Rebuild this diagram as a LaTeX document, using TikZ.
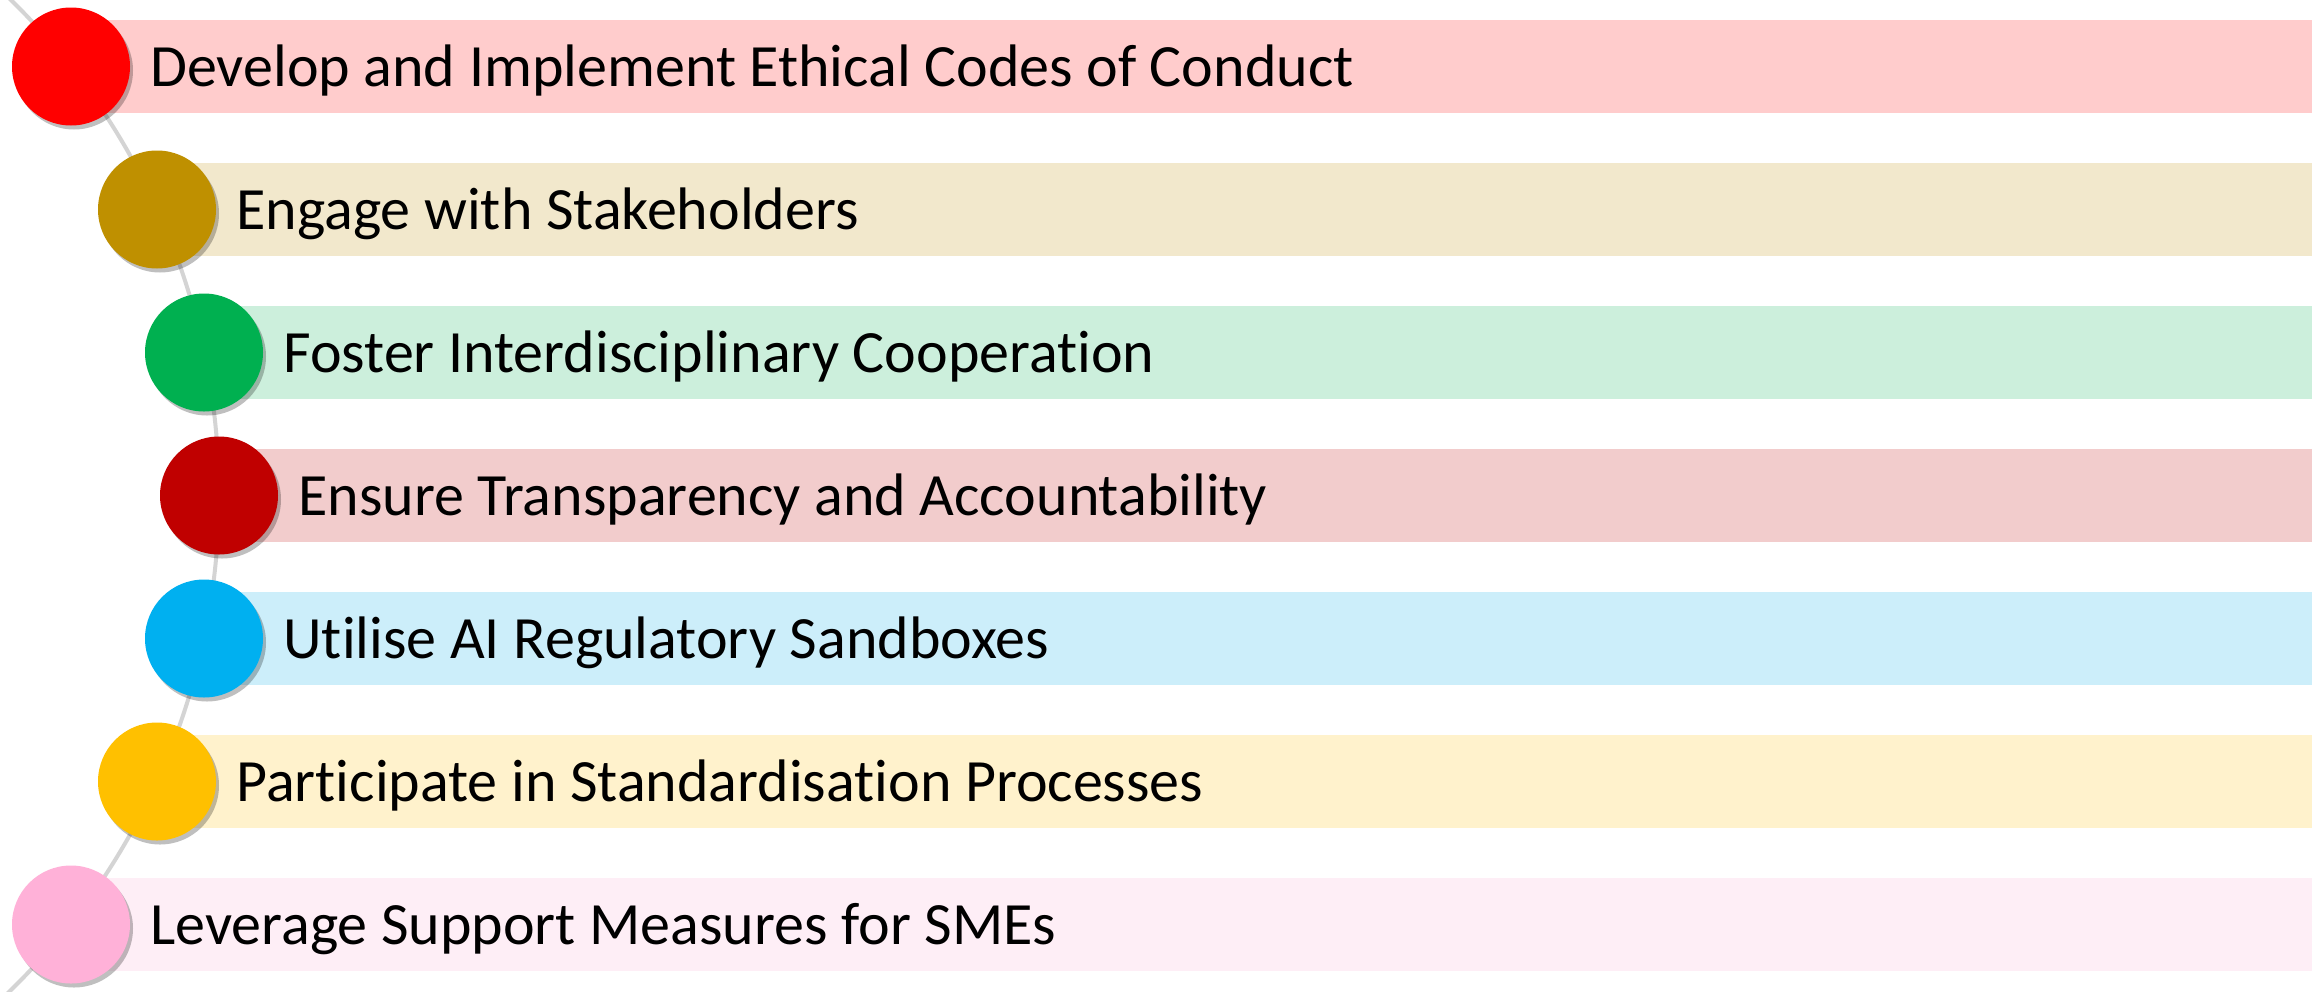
\documentclass[tikz,border=0pt]{standalone}
\usepackage{fontspec}
\setmainfont[RawFeature={-liga}]{Carlito}
\usetikzlibrary{shadows}
\definecolor{c1}{RGB}{255,0,0}\definecolor{b1}{RGB}{255,204,204}
\definecolor{c2}{RGB}{191,144,0}\definecolor{b2}{RGB}{242,232,204}
\definecolor{c3}{RGB}{0,176,80}\definecolor{b3}{RGB}{204,239,220}
\definecolor{c4}{RGB}{192,0,0}\definecolor{b4}{RGB}{242,204,204}
\definecolor{c5}{RGB}{0,176,240}\definecolor{b5}{RGB}{204,238,250}
\definecolor{c6}{RGB}{255,192,0}\definecolor{b6}{RGB}{255,242,204}
\definecolor{c7}{RGB}{255,177,216}\definecolor{b7}{RGB}{254,238,246}
\definecolor{arcgray}{RGB}{212,212,212}
\tikzset{
  dot/.style={circle, minimum size=59pt, inner sep=0pt,
    drop shadow={shadow xshift=1.5pt, shadow yshift=-2pt, opacity=0.25, fill=black}},
  label/.style={anchor=base west, inner sep=0pt, font=\fontsize{30pt}{36pt}\selectfont, text=black},
  arcline/.style={draw=arcgray, line width=2pt}
}
\begin{document}
\begin{tikzpicture}[x=0.5pt,y=-0.5pt]
\useasboundingbox (0,0) rectangle (2312,991);
\fill[white] (0,0) rectangle (2312,991);
% bars
\foreach \i/\cx in {1/71,2/157,3/204,4/219,5/204,6/157,7/71}{
  \pgfmathsetmacro{\cy}{66.5+143*(\i-1)}
  \fill[b\i] (\cx,\cy-46.5) rectangle (2312,\cy+46.5);
}
% arc
\coordinate (arcc) at (-474,495);
\begin{scope}
\clip (0,0) rectangle (2312,991);
\draw[arcline] ([shift={(47:346.5pt)}]arcc) arc[start angle=47, end angle=-47, radius=346.5pt];
\end{scope}
% circles and labels
\node[dot, fill=c1] (n1) at (71,66.5) {};
\node[dot, fill=c2] (n2) at (157,209.5) {};
\node[dot, fill=c3] (n3) at (204,352.5) {};
\node[dot, fill=c4] (n4) at (219,495.5) {};
\node[dot, fill=c5] (n5) at (204,638.5) {};
\node[dot, fill=c6] (n6) at (157,781.5) {};
\node[dot, fill=c7] (n7) at (71,924.5) {};
\node[label] (t1) at (150,86) {Develop and Implement Ethical Codes of Conduct};
\node[label] (t2) at (236,229) {Engage with Stakeholders};
\node[label] (t3) at (283,372) {Foster Interdisciplinary Cooperation};
\node[label] (t4) at (298,515) {Ensure Transparency and Accountability};
\node[label] (t5) at (283,658) {Utilise AI Regulatory Sandboxes};
\node[label] (t6) at (236,801) {Participate in Standardisation Processes};
\node[label] (t7) at (150,944) {Leverage Support Measures for SMEs};
\end{tikzpicture}
\end{document}
